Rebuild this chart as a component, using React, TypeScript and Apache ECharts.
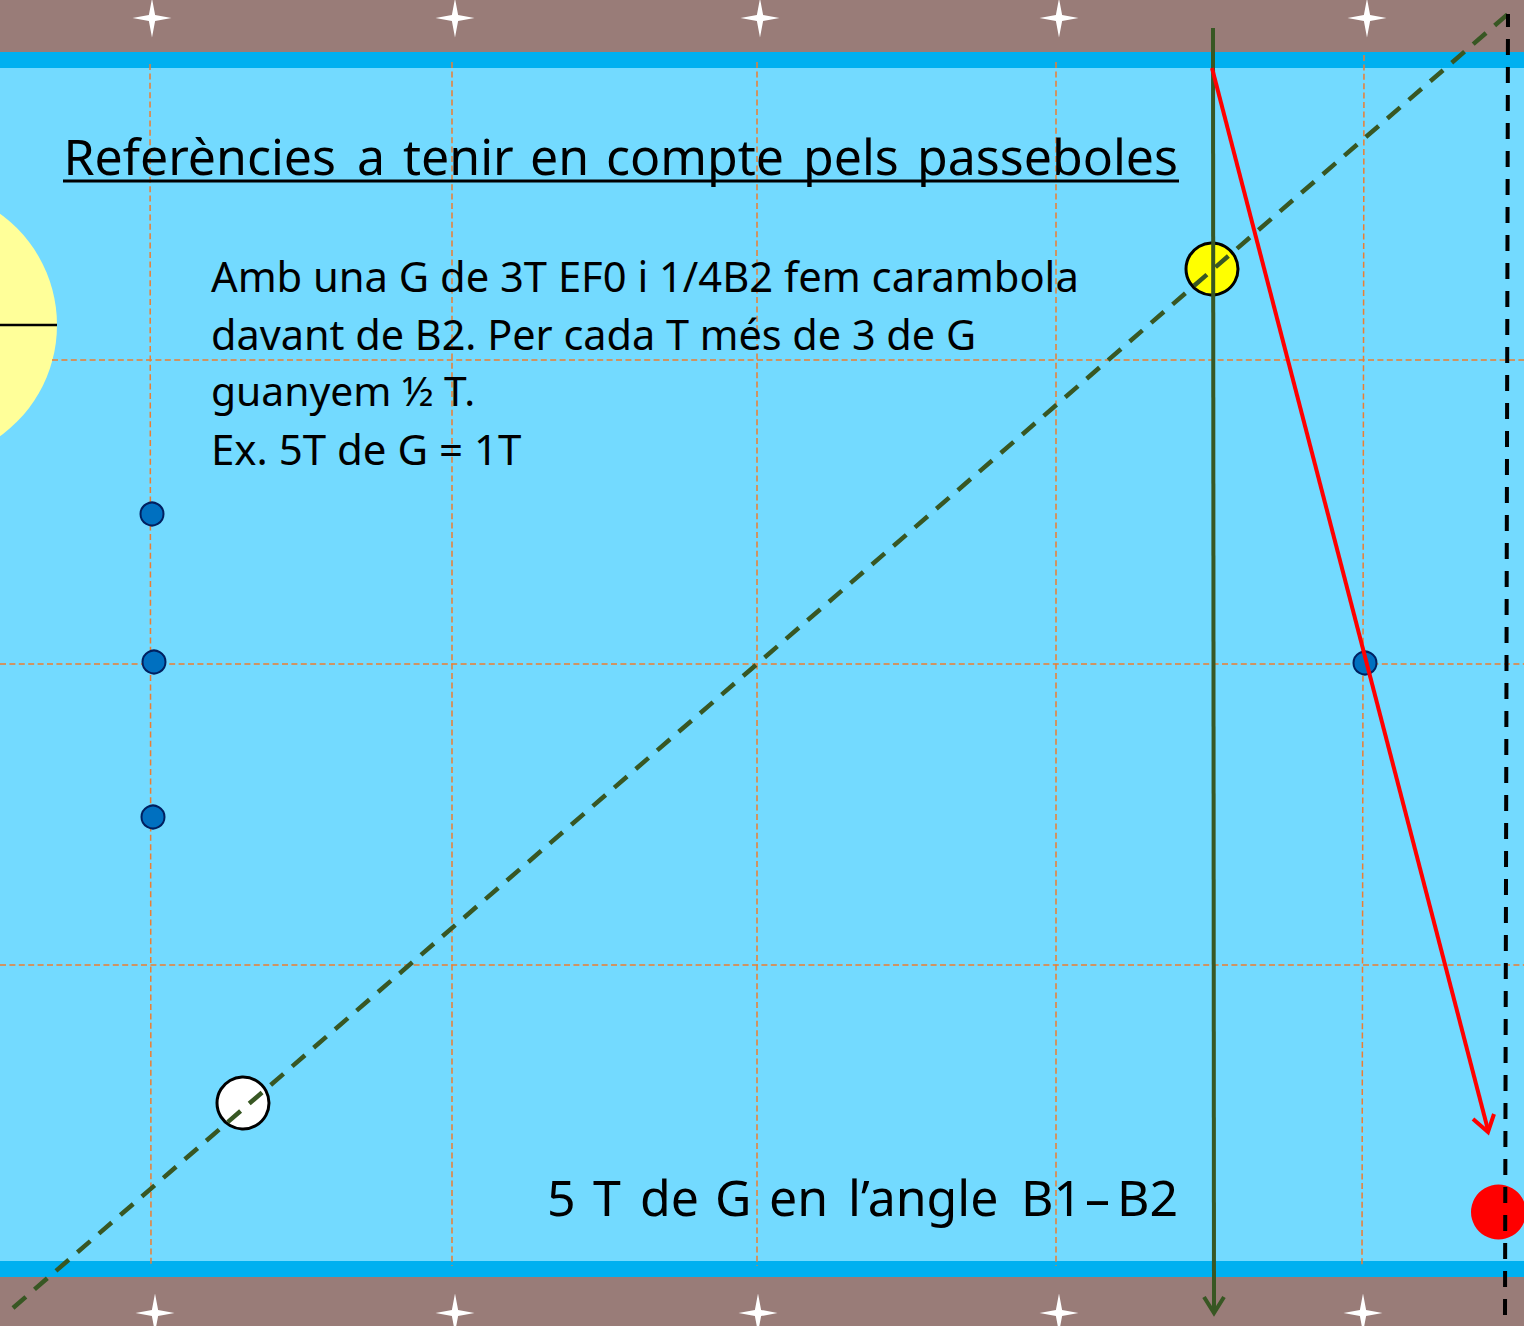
import React, { useEffect, useRef } from "react";
import * as echarts from "echarts";

const WIDTH = 1524;
const HEIGHT = 1326;

const bands = [
  [0, 0, 1524, 52],
  [0, 52, 1524, 68],
  [0, 68, 1524, 1261],
  [0, 1261, 1524, 1277],
  [0, 1277, 1524, 1326],
];
const bandColors = ["#997C78", "#00B0F0", "#73DAFF", "#00B0F0", "#997C78"];
const verticalGrid = [
  [[150, 64], [151, 1266]],
  [[452, 62], [452, 1266]],
  [[757, 62], [757, 1266]],
  [[1056, 62], [1056, 1266]],
  [[1364, 55], [1362, 1265]],
];
const horizontalGrid = [
  [[52, 360], [1524, 360]],
  [[0, 664], [1524, 664]],
  [[0, 965], [1524, 965]],
];
const starsTop = [[152, 18], [455, 18], [760, 18], [1059, 18], [1367, 18]];
const starsBottom = [[155, 1313], [455, 1313], [758, 1313], [1059, 1313], [1363, 1313]];
const blueBalls = [[152, 514], [154, 662], [153, 817], [1365, 663]];
const whiteBall = [[243, 1103]];
const yellowBall = [[1212, 269]];
const redBall = [[1498.5, 1212]];
const paleCircle = [[-80, 325, 137]];
const paleLine = [[0, 325], [57, 325]];
const diagonal = [[13, 1308], [1508, 14]];
const blackDash = [[1508, 14], [1505, 1316]];
const greenShaft = [[1213, 28], [1214, 1310]];
const greenHead = [[1204, 1297], [1214, 1313], [1224, 1297]];
const redShaft = [[1212, 68], [1488, 1130]];
const redHead = [[1473, 1119], [1488, 1132], [1494, 1114]];

const titleWords = ["Referències", "a", "tenir", "en", "compte", "pels", "passeboles"];
const titleX = [63.5, 357, 403, 530, 606, 803, 917];
const bodyLines = [
  "Amb una G de 3T EF0 i 1/4B2 fem carambola",
  "davant de B2. Per cada T més de 3 de G",
  "guanyem ½ T.",
  "Ex. 5T de G = 1T",
];
const bodySizes = [41.7, 41.4, 40.8, 42];
const bodyTops = [254, 313, 369.4, 427];
const footWords = ["5", "T", "de", "G", "en", "l’angle", "B1", "–", "B2"];
const footX = [547, 593, 640, 715, 769, 848, 1021, 1085, 1117];

const STAR = "path://M50,0 L58,42 L100,50 L58,58 L50,100 L42,58 L0,50 L42,42 Z";
const FONT = '"Noto Sans", sans-serif';

function line(data: number[][], color: string, width: number, z: number, dash?: any, offset?: number) {
  return {
    type: "line",
    data,
    z,
    silent: true,
    showSymbol: false,
    symbol: "none",
    clip: false,
    lineStyle: { color, width, type: dash || "solid", dashOffset: offset || 0, cap: "butt", join: "miter", opacity: 1 },
  };
}

function balls(data: number[][], size: number, fill: string, stroke: string, sw: number, z: number) {
  return {
    type: "scatter",
    data,
    z,
    silent: true,
    symbol: "circle",
    symbolSize: size,
    clip: false,
    itemStyle: { color: fill, borderColor: stroke, borderWidth: sw, opacity: 1 },
  };
}

function stars(data: number[][]) {
  return {
    type: "scatter",
    data,
    z: 2,
    silent: true,
    symbol: STAR,
    symbolSize: 39,
    clip: false,
    itemStyle: { color: "#FFFFFF", opacity: 1 },
  };
}

function txt(text: string, x: number, y: number, size: number) {
  return {
    type: "text",
    x,
    y,
    z: 20,
    silent: true,
    style: { text, fill: "#000000", font: `${size}px ${FONT}`, textAlign: "left" },
  };
}

export default function App() {
  const ref = useRef<HTMLDivElement>(null);
  useEffect(() => {
    const chart = echarts.init(ref.current!, undefined, { renderer: "svg" });
    chart.setOption({
      animation: false,
      grid: { left: 0, right: 0, top: 0, bottom: 0 },
      xAxis: { type: "value", min: 0, max: WIDTH, show: false },
      yAxis: { type: "value", min: 0, max: HEIGHT, inverse: true, show: false },
      graphic: [
        ...titleWords.map((t, i) => txt(t, titleX[i], 131, 50)),
        { type: "rect", z: 20, silent: true, shape: { x: 63, y: 179.5, width: 1116, height: 3 }, style: { fill: "#000" } },
        ...bodyLines.map((t, i) => txt(t, 211, bodyTops[i], bodySizes[i])),
        ...footWords.map((t, i) => txt(t, footX[i], 1172, 50)),
      ],
      series: [
        {
          type: "custom",
          z: 1,
          silent: true,
          clip: false,
          data: bands,
          encode: { x: [0, 2], y: [1, 3] },
          renderItem: (params: any, api: any) => {
            const a = api.coord([api.value(0), api.value(1)]);
            const b = api.coord([api.value(2), api.value(3)]);
            return {
              type: "rect",
              shape: { x: a[0], y: a[1], width: b[0] - a[0], height: b[1] - a[1] },
              style: { fill: bandColors[params.dataIndex] },
            };
          },
        },
        {
          type: "custom",
          z: 2,
          silent: true,
          clip: false,
          data: paleCircle,
          renderItem: (_: any, api: any) => {
            const c = api.coord([api.value(0), api.value(1)]);
            return { type: "circle", shape: { cx: c[0], cy: c[1], r: api.value(2) }, style: { fill: "#FFFF99" } };
          },
        },
        line(paleLine, "#000000", 2.5, 3),
        ...verticalGrid.map((d) => line(d, "#ED7D31", 1.5, 4, [6, 3.4])),
        ...horizontalGrid.map((d) => line(d, "#ED7D31", 1.5, 4, [6, 3.4])),
        stars(starsTop),
        stars(starsBottom),
        balls(blueBalls, 23, "#0070C0", "#002060", 2, 6),
        balls(whiteBall, 52, "#FFFFFF", "#000000", 3, 6),
        balls(yellowBall, 52, "#FFFF00", "#000000", 3, 6),
        balls(redBall, 55, "#FF0000", "#FF0000", 0, 6),
        line(diagonal, "#385723", 4.5, 8, [17, 11.4]),
        line(blackDash, "#000000", 4, 8, [16, 12], 3),
        line(greenShaft, "#385723", 4, 9),
        line(greenHead, "#385723", 4, 9),
        line(redShaft, "#FF0000", 4, 9),
        line(redHead, "#FF0000", 4, 9),
      ],
    });
    return () => chart.dispose();
  }, []);
  return <div ref={ref} style={{ position: "absolute", left: 0, top: 0, width: WIDTH, height: HEIGHT }} />;
}
